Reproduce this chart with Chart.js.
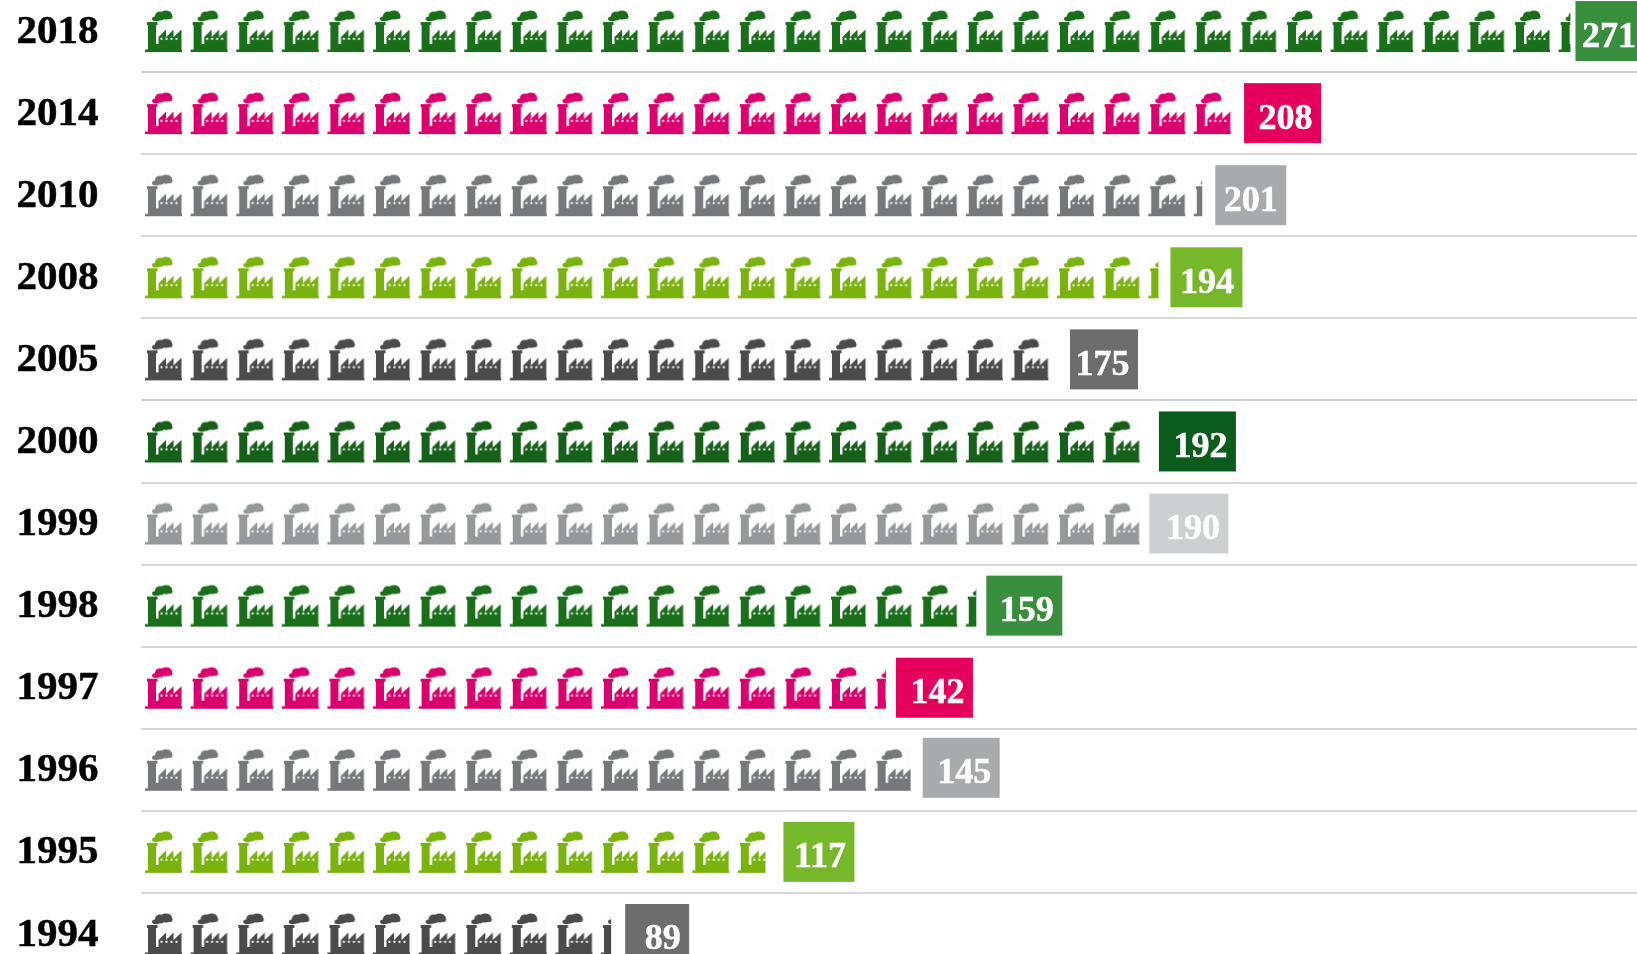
<!DOCTYPE html>
<html>
<head>
<meta charset="utf-8">
<style>
html,body{margin:0;padding:0;background:#fff;overflow:hidden;width:1637px;height:954px}
#wrap{position:absolute;left:0;top:-10px;width:1637px;height:985px}
</style>
<script src="https://cdn.jsdelivr.net/npm/chart.js@4"></script>
</head>
<body>
<div id="wrap"><canvas id="c" width="1637" height="985"></canvas></div>
<script>
const years = ['2018','2014','2010','2008','2005','2000','1999','1998','1997','1996','1995','1994'];
const values = [271,208,201,194,175,192,190,159,142,145,117,89];

const iconColors = ['#1a6f1b','#dc006f','#76787c','#7ab30d','#4b4b4b','#17601a','#96999a','#1a6f1b','#dc006f','#76787c','#7ab30d','#4b4b4b'];
const badgeColors = ['#388e3c','#e5005e','#a9aaad','#77b82a','#6d6d6d','#0b5b1c','#cdcfd0','#388e3c','#e5005e','#a9aaad','#77b82a','#6d6d6d'];
const badgeGaps = [5,5,13,5,4.5,4,5,5,4,15,23,12];
const badgeWidths = [69,77,71,72,68,77,79,76,77,77,71,64];
const badgeLifts = [0,0,0,0,0,0,0,0,0,2,0,0];
const iconTrims = [0,0,0,7,9,7,0,5,6,-3,-5,2];

const ICON_W = 37, ICON_H = 42, ICON_PITCH = 45.6;
const SERIF = '"Liberation Serif", serif';

const tiles = {};
function iconTile(color){
  if (tiles[color]) return tiles[color];
  const cv = document.createElement('canvas');
  cv.width = ICON_W + 2; cv.height = ICON_H + 2;
  const g = cv.getContext('2d');
  g.fillStyle = '#fdfdfd';
  g.fillRect(1,1,ICON_W,ICON_H);
  g.filter = 'blur(0.45px)';
  g.translate(1,1);
  g.fillStyle = color;
  g.fillRect(0,39.5,37,2.5);            // base plate
  g.fillRect(2,12,10.5,3);              // chimney cap
  g.fillRect(3,15,8,25);                // chimney shaft
  g.fillRect(11,34,4,6);                // join
  g.beginPath();                        // saw-tooth hall
  g.moveTo(13.5,40); g.lineTo(13.5,27); g.lineTo(21,19.5); g.lineTo(21,27);
  g.lineTo(28.5,19.5); g.lineTo(28.5,27); g.lineTo(36.5,19.5); g.lineTo(36.5,40);
  g.closePath(); g.fill();
  [[11,8.7,4,2.5],[15,6,5,4.5],[21,5,6,4.5],[25,6.5,2.5,2.5]].forEach(e=>{   // smoke
    g.beginPath(); g.ellipse(e[0],e[1],e[2],e[3],0,0,Math.PI*2); g.fill();
  });
  g.fillStyle = '#fdfdfd';
  [15.5,20.5,25.5,30.5].forEach(x => g.fillRect(x,27.8,2,2));
  tiles[color] = cv;
  return cv;
}

const factoryBars = {
  id:'factoryBars',
  beforeDatasetDraw(chart){
    const ctx = chart.ctx;
    const meta = chart.getDatasetMeta(0);
    meta.data.forEach((bar,i)=>{
      const color = bar.options.backgroundColor;
      const left = bar.base, right = bar.x - iconTrims[i], top = bar.y - ICON_H/2;
      const tile = iconTile(color);
      ctx.save();
      ctx.beginPath();
      ctx.rect(left-1, top-1, right-left+1, ICON_H+2);
      ctx.clip();
      for (let x = left; x < right; x += ICON_PITCH) ctx.drawImage(tile, x-1, top-1);
      ctx.restore();

      const bx = bar.x + badgeGaps[i], bw = badgeWidths[i], cy = bar.y - badgeLifts[i];
      ctx.fillStyle = badgeColors[i];
      ctx.fillRect(bx, cy-30, bw, 60);
      ctx.fillStyle = '#fff';
      ctx.strokeStyle = '#fff';
      ctx.lineWidth = 0.5;
      ctx.font = 'bold 36px ' + SERIF;
      ctx.textAlign = 'right';
      ctx.textBaseline = 'alphabetic';
      const label = String(values[i]);
      ctx.fillText(label, bx+bw-8.5, cy+15.5);
      ctx.strokeText(label, bx+bw-8.5, cy+15.5);
    });
    return false;
  }
};

new Chart(document.getElementById('c'),{
  type:'bar',
  data:{labels:years,datasets:[{data:values,backgroundColor:iconColors,barThickness:ICON_H,borderWidth:0}]},
  options:{
    indexAxis:'y',
    responsive:false,
    animation:false,
    layout:{padding:0},
    plugins:{legend:{display:false},tooltip:{enabled:false}},
    scales:{
      x:{display:false,min:-0.76,max:283.65},
      y:{
        afterFit(s){ s.width = 141; s.paddingTop = 0; s.paddingBottom = 0; },
        border:{display:false},
        grid:{color:'#d2d8d8',lineWidth:2,drawTicks:false},
        ticks:{
          color:'#000',
          font:{family:SERIF,weight:'bold',size:41},
          padding:42.5,
          labelOffset:1,
          textStrokeColor:'#000',
          textStrokeWidth:0.5
        }
      }
    }
  },
  plugins:[factoryBars]
});
</script>
</body>
</html>
